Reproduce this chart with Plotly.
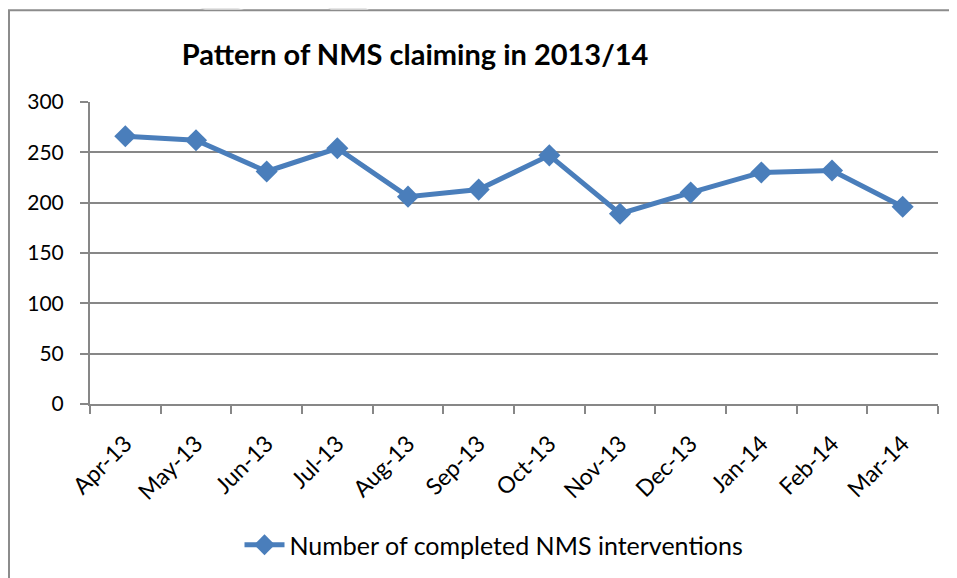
import plotly.graph_objects as go

# data
months = ["Apr-13", "May-13", "Jun-13", "Jul-13", "Aug-13", "Sep-13",
          "Oct-13", "Nov-13", "Dec-13", "Jan-14", "Feb-14", "Mar-14"]
nms_completed = [266, 262, 231, 254, 206, 213, 247, 189, 210, 230, 232, 196]

series_name = "Number of completed NMS interventions"
title_text = "Pattern of NMS claiming in 2013/14"

line_color = "#4A7EBB"
grid_color = "#878787"
font_name = "Lato"

# page has an 8px body margin, so the figure starts at (8, 8)
OFF = 8
W, H = 957 - OFF, 578 - OFF
# plot area in page pixels: x 90..938, y 102..405
L, R, T, B = 90, 938, 102, 405


def px(x):
    return (x - L) / (R - L)


def py(y):
    return (B - y) / (B - T)


fig = go.Figure()

fig.add_trace(go.Scatter(
    x=months,
    y=nms_completed,
    mode="lines+markers",
    name=series_name,
    line=dict(color=line_color, width=5),
    marker=dict(symbol="diamond", size=17, color=line_color),
))

# outer frame of the chart (left + top edges visible)
fig.add_shape(type="rect", xref="paper", yref="paper",
              x0=px(9), x1=px(1000), y0=py(600), y1=py(10),
              line=dict(color="#8c8c8c", width=2), layer="below")

# faint hatched stripes of the page background above the frame
for pts in [[(200, 8), (238, 8), (244, 9.5), (205, 9.5)],
            [(328, 8), (366, 8), (369, 9.5), (331, 9.5)]]:
    path = "M " + " L ".join(f"{px(a)},{py(b)}" for a, b in pts) + " Z"
    fig.add_shape(type="path", xref="paper", yref="paper", path=path,
                  fillcolor="#dedede", line=dict(width=0), layer="below")

fig.update_layout(
    width=W,
    height=H,
    margin=dict(l=L - OFF, r=W - (R - OFF), t=T - OFF, b=H - (B - OFF)),
    paper_bgcolor="white",
    plot_bgcolor="white",
    font=dict(family=font_name, color="black", size=21),
    title=dict(text="<b>" + title_text + "</b>",
               xref="container", x=(415 - OFF) / W, xanchor="center",
               y=1 - (55 - OFF) / H, yanchor="middle",
               font=dict(size=29, family=font_name, color="black")),
    showlegend=True,
    legend=dict(orientation="h", x=px(494), xanchor="center",
                y=py(545), yanchor="middle",
                font=dict(size=25, family=font_name, color="black"),
                itemwidth=40),
)

fig.update_xaxes(
    type="category",
    range=[-0.5, len(months) - 0.5],
    showline=True, linecolor=grid_color, linewidth=2,
    showgrid=False,
    ticks="outside", ticklen=8, tickcolor=grid_color, tickwidth=2,
    tickson="boundaries",
    tickangle=-45,
    ticklabelstandoff=15,
    tickfont=dict(size=23, family=font_name, color="black"),
)

fig.update_yaxes(
    range=[0, 300],
    dtick=50,
    showline=True, linecolor=grid_color, linewidth=2,
    showgrid=True, gridcolor=grid_color, gridwidth=2,
    zeroline=False,
    ticks="outside", ticklen=8, tickcolor=grid_color, tickwidth=2,
    ticklabelstandoff=12,
    tickfont=dict(size=21, family=font_name, color="black"),
)

fig.write_html("out.html")
